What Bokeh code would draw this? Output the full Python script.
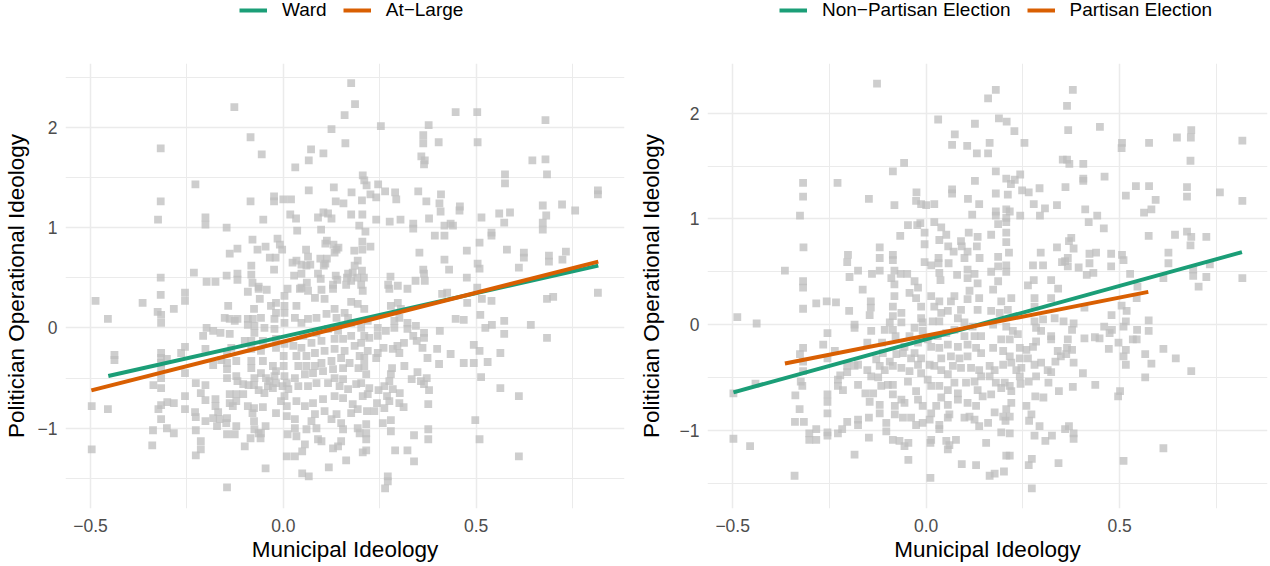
from bokeh.plotting import figure
from bokeh.layouts import row, column
from bokeh.models import Legend, LegendItem, FixedTicker, Range1d, CustomJSTickFormatter
from bokeh.embed import file_html
from bokeh.resources import INLINE

FONT = "Liberation Sans"

# ---------------- data ----------------
x_ticks = [-0.5, 0.0, 0.5]
x_minor = [-0.25, 0.25, 0.75]
y_ticks = [-1, 0, 1, 2]
left_y_minor = [-1.5, -0.5, 0.5, 1.5, 2.5]
right_y_minor = [-1.5, -0.5, 0.5, 1.5]

left_labels = ["Ward", "At\u2212Large"]
right_labels = ["Non\u2212Partisan Election", "Partisan Election"]
series_colors = ["#1B9E77", "#D95F02"]

# fitted lines: (x_min, x_max, intercept, slope)
left_fits = [(-0.454, 0.817, -0.087, 0.8655), (-0.498, 0.817, -0.137, 0.9757)]
right_fits = [(-0.498, 0.816, -0.1385, 1.009), (-0.365, 0.574, -0.105, 0.722)]

# (municipal ideology, politician operational ideology)
left_points = [
(-0.127,2.20),(-0.085,1.90),(-0.056,1.73),(-0.318,1.79),(-0.228,1.43),(-0.318,1.26),(-0.325,1.08),(-0.202,1.10),(-0.202,1.03),(-0.147,1.00),
(-0.085,1.26),(-0.052,1.08),(-0.024,1.31),(-0.024,1.26),(0.000,1.28),(-0.080,0.88),(-0.119,0.79),(-0.139,0.74),(-0.067,0.78),(-0.046,0.81),
(-0.015,0.89),(-0.009,0.83),(-0.003,0.78),(-0.035,0.70),(-0.020,0.70),(-0.024,0.58),(-0.083,0.62),(-0.083,0.53),(-0.119,0.54),(-0.119,0.48),
(-0.147,0.52),(-0.232,0.55),(-0.199,0.46),(-0.176,0.46),(-0.318,0.50),(-0.080,0.45),(-0.064,0.41),(-0.043,0.38),(0.011,0.39),
(0.176,2.44),(0.186,2.23),(0.159,2.12),(0.125,1.98),(0.161,1.84),(0.253,2.01),(0.072,1.78),(0.104,1.74),(0.066,1.67),(0.031,1.60),
(0.447,2.15),(0.503,2.15),(0.377,2.02),(0.363,1.92),(0.363,1.84),(0.403,1.85),(0.504,1.85),(0.358,1.71),(0.367,1.67),(0.365,1.63),
(0.575,1.53),(0.575,1.44),(0.206,1.52),(0.210,1.47),(0.216,1.42),(0.246,1.43),(0.131,1.40),(0.066,1.37),(0.177,1.35),(0.226,1.33),
(0.241,1.30),(0.264,1.36),(0.290,1.35),(0.293,1.28),(0.350,1.36),(0.371,1.26),(0.409,1.33),(0.405,1.24),(0.408,1.16),(0.458,1.21),
(0.457,1.17),(0.514,1.10),(0.560,1.14),(0.588,1.15),(0.573,1.05),(0.020,1.28),(0.136,1.26),(0.156,1.24),(0.204,1.27),(0.018,1.13),
(0.033,1.09),(0.090,1.10),(0.104,1.15),(0.116,1.14),(0.125,1.09),(0.176,1.13),(0.205,1.13),(0.241,1.08),(0.276,1.06),(0.304,1.08),
(0.337,1.04),(0.337,0.99),(0.378,1.09),(0.418,1.02),(0.434,1.04),(0.440,1.02),(0.393,0.92),(0.418,0.92),(0.197,1.02),(0.213,0.96),
(0.098,0.98),(0.036,0.97),(0.540,0.95),(0.540,0.92),(0.509,0.85),(0.580,0.78),(0.476,0.77),(0.353,0.75),(0.418,0.68),(0.430,0.58),
(0.504,0.64),(0.509,0.59),(0.476,0.50),(0.363,0.58),(0.365,0.54),(0.367,0.47),(0.343,0.47),(0.278,0.51),(0.272,0.43),(0.297,0.42),
(0.503,0.40),
(0.113,0.87),(0.109,0.84),(0.130,0.83),(0.143,0.80),(0.133,0.75),(0.138,0.78),(0.059,0.78),(0.064,0.71),(0.096,0.69),(0.113,0.69),
(0.109,0.64),(0.105,0.62),(0.034,0.67),(0.024,0.65),(0.047,0.63),(0.060,0.62),(0.070,0.63),(0.184,0.77),(0.205,0.86),(0.205,0.78),
(0.226,0.81),(0.193,0.67),(0.185,0.62),(0.204,0.57),(0.180,0.55),(0.168,0.54),(0.165,0.50),(0.176,0.47),(0.192,0.50),(0.209,0.50),
(0.136,0.52),(0.140,0.48),(0.090,0.54),(0.028,0.52),(0.047,0.54),(0.061,0.45),(0.097,0.49),(0.129,0.43),(0.163,0.43),(0.202,0.43),
(0.047,0.40),
(0.680,2.07),(0.646,1.67),(0.680,1.68),(0.684,1.53),(0.673,1.22),(0.723,1.23),(0.682,1.12),(0.757,1.17),(0.673,1.05),(0.673,0.98),
(0.816,1.37),(0.816,1.33),(0.624,0.75),(0.624,0.70),(0.611,0.60),(0.689,0.72),(0.689,0.66),(0.733,0.76),(0.724,0.68),
(0.684,0.29),(0.700,0.31),(0.816,0.35),(0.642,0.03),(0.684,-0.10),(0.611,-0.68),(0.611,-1.28),
(-0.487,0.27),(-0.455,0.09),(-0.365,0.25),(-0.318,0.33),(-0.255,0.35),(-0.255,0.27),(-0.284,0.19),(-0.326,0.16),(-0.317,0.13),(-0.317,0.05),
(-0.438,-0.27),(-0.438,-0.32),(-0.317,-0.25),(-0.317,-0.30),(-0.317,-0.35),(-0.302,-0.31),(-0.317,-0.41),(-0.317,-0.50),(-0.337,-0.57),(-0.317,-0.60),
(-0.497,-0.78),(-0.455,-0.81),(-0.497,-1.21),(-0.340,-1.17),(-0.338,-1.02),(-0.317,-0.91),(-0.302,-1.00),(-0.284,-1.05),(-0.324,-0.81),(-0.317,-0.77),
(-0.301,-0.74),(-0.284,-0.75),(-0.255,-0.68),(-0.255,-0.81),(-0.265,-0.25),(-0.255,-0.19),(-0.255,-0.45),(-0.227,-0.55),(-0.202,-0.57),(-0.214,-0.65),
(-0.229,-0.84),(-0.227,-0.89),(-0.227,-1.02),(-0.214,-1.13),(-0.214,-1.21),(-0.227,-1.27),(-0.202,-0.72),(-0.202,-0.93),(-0.176,-0.71),(-0.176,-0.78),
(-0.169,-0.84),(-0.182,-0.90),(-0.172,-0.98),(-0.146,-0.90),(-0.146,-1.06),(-0.122,-0.98),(-0.146,-1.59),(-0.046,-1.40),(-0.100,-1.18),(-0.085,-1.10),
(-0.064,-1.05),(-0.059,-1.10),(-0.046,-0.98),(-0.076,-0.93),(-0.080,-0.85),(-0.076,-0.80),(-0.092,-0.78),(-0.053,-0.79),(-0.019,-0.85),(0.009,-0.88),
(-0.122,-0.73),(-0.139,-0.75),(-0.139,-0.66),(-0.122,-0.66),(-0.104,-0.66),(-0.104,-0.56),(-0.090,-0.57),(-0.076,-0.57),(-0.064,-0.62),(-0.049,-0.65),
(-0.040,-0.58),(-0.027,-0.60),(-0.019,-0.55),(-0.002,-0.58),(0.003,-0.68),(-0.006,-0.73),(-0.119,-0.53),(-0.122,-0.48),(-0.146,-0.50),(-0.146,-0.41),
(-0.146,-0.35),(-0.161,-0.32),(-0.182,-0.37),(-0.122,-0.33),(-0.083,-0.33),(-0.083,-0.40),(-0.053,-0.33),(-0.027,-0.38),(-0.019,-0.43),(0.001,-0.38),
(0.001,-0.28),(-0.058,-0.23),(-0.083,-0.21),(-0.100,-0.13),(-0.083,-0.13),(-0.135,-0.20),(-0.146,-0.25),(-0.202,-0.21),(-0.208,-0.08),(-0.199,0.00),
(-0.182,-0.03),(-0.163,-0.05),(-0.139,-0.06),(-0.126,0.07),(-0.152,0.10),(-0.139,0.09),(-0.119,0.09),(-0.143,0.22),(-0.092,0.09),(-0.079,0.09),
(-0.058,0.10),(-0.075,0.02),(-0.092,0.03),(-0.049,0.00),(-0.023,0.09),(-0.023,-0.01),(-0.019,0.15),(-0.032,0.22),(-0.019,0.25),(0.003,0.22),
(0.003,0.15),(-0.076,0.19),(-0.092,0.36),(-0.064,0.39),(-0.061,0.29),(0.003,0.32),(0.003,0.05),(-0.075,-0.05),(-0.053,-0.13),(-0.019,-0.11),
(-0.019,-0.20),(0.003,-0.16),(-0.058,-0.45),(-0.075,-0.50),(-0.045,-0.50),(-0.036,-0.53),(-0.023,-0.48),(0.003,-0.48),(0.011,-1.06),(-0.131,-0.78),
(-0.165,-0.91),(-0.148,-0.95),(-0.126,-1.06),(-0.075,-1.01),(-0.058,-1.05),
(0.425,0.35),(0.412,0.34),(0.477,0.25),(0.515,0.29),(0.540,0.27),(0.511,0.13),(0.447,0.09),(0.468,0.08),(0.573,0.07),(0.541,0.03),
(0.524,0.00),(0.573,-0.06),(0.406,-0.03),(0.365,-0.05),(0.365,-0.10),(0.322,0.05),(0.322,-0.01),(0.344,0.02),(0.288,0.07),(0.288,0.00),
(0.301,0.10),(0.305,0.19),(0.279,0.22),(0.297,0.25),(0.275,0.39),(0.322,0.39),(0.245,0.00),(0.219,0.07),(0.210,0.19),(0.193,0.24),
(0.176,0.26),(0.206,0.37),(0.129,0.39),(0.099,0.38),(0.082,0.30),(0.107,0.29),(0.133,0.19),(0.159,0.15),(0.168,0.10),(0.138,0.10),
(0.112,0.14),(0.086,0.10),(0.064,0.09),(0.047,0.05),(0.030,0.10),(0.034,0.22),(0.043,0.39),(0.064,0.37),(0.176,0.05),(0.202,0.00),
(0.399,-0.21),(0.434,-0.26),(0.374,-0.30),(0.404,-0.36),(0.361,-0.20),(0.346,-0.13),(0.337,-0.08),(0.313,-0.15),(0.296,-0.18),(0.301,-0.25),
(0.284,-0.21),(0.260,-0.20),(0.245,-0.25),(0.241,-0.30),(0.219,-0.23),(0.210,-0.30),(0.198,-0.28),(0.210,-0.38),(0.195,-0.40),(0.215,-0.46),
(0.202,-0.55),(0.189,-0.56),(0.223,-0.60),(0.219,-0.66),(0.206,-0.68),(0.243,-0.75),(0.247,-0.62),(0.262,-0.58),(0.275,-0.53),(0.279,-0.46),
(0.282,-0.40),(0.284,-0.61),(0.269,-0.68),(0.275,-0.73),(0.302,-0.65),(0.301,-0.75),(0.312,-0.79),(0.314,-0.38),(0.333,-0.51),(0.348,-0.44),
(0.357,-0.53),(0.365,-0.56),(0.372,-0.50),(0.378,-0.62),(0.376,-0.76),(0.468,-0.35),(0.494,-0.35),(0.494,-0.17),(0.509,-0.23),(0.530,-0.34),
(0.563,-0.25),(0.513,-0.49),(0.563,-0.60),(0.498,-0.92),(0.509,-1.11),(0.376,-1.01),(0.376,-1.11),(0.339,-1.07),(0.322,-1.22),(0.339,-1.33),
(0.290,-1.22),(0.271,-1.48),(0.271,-1.53),(0.264,-1.60),(0.279,-0.92),(0.279,-1.03),(0.258,-0.95),(0.215,-0.96),(0.215,-1.05),(0.215,-1.11),
(0.193,-1.00),(0.198,-1.05),(0.215,-1.22),(0.206,-1.24),(0.163,-1.32),(0.150,-1.13),(0.142,-1.18),(0.129,-1.20),(0.118,-1.39),(0.049,-1.45),
(0.066,-1.48),(0.049,-1.23),(0.030,-1.28),(0.009,-1.28),(0.090,-1.11),(0.099,-1.13),(0.056,-1.16),(0.034,-1.08),(0.030,-1.00),(0.060,-1.01),
(0.086,-1.00),(0.073,-0.93),(0.125,-0.91),(0.150,-0.95),(0.155,-1.01),(0.138,-0.86),(0.107,-0.83),(0.082,-0.86),(0.030,-0.91),(0.009,-0.78),
(0.034,-0.73),(0.056,-0.78),(0.077,-0.75),(0.103,-0.71),(0.133,-0.68),(0.155,-0.70),(0.176,-0.85),(0.180,-0.76),(0.193,-0.81),(0.217,-0.83),
(0.236,-0.83),(0.262,-0.80),(0.168,-0.61),(0.146,-0.58),(0.155,-0.51),(0.133,-0.50),(0.116,-0.55),(0.086,-0.55),(0.064,-0.58),(0.039,-0.58),
(0.013,-0.61),(0.009,-0.55),(0.030,-0.50),(0.056,-0.46),(0.077,-0.45),(0.103,-0.43),(0.129,-0.41),(0.155,-0.40),(0.172,-0.35),(0.150,-0.30),
(0.125,-0.33),(0.099,-0.35),(0.082,-0.38),(0.060,-0.38),(0.039,-0.38),(0.034,-0.28),(0.060,-0.28),(0.082,-0.25),(0.107,-0.23),(0.133,-0.21),
(0.159,-0.23),(0.185,-0.18),(0.202,-0.15),(0.210,-0.08),(0.223,-0.10),(0.176,-0.08),(0.155,-0.11),(0.133,-0.11),(0.099,-0.13),(0.073,-0.15),
(0.047,-0.20),(0.026,-0.18),(0.052,-0.08),(0.086,-0.05),(0.116,-0.01),(0.142,-0.03),(0.266,-0.03),(0.245,-0.08),
]

right_points = [
(-0.127,2.28),(0.031,1.94),(0.126,1.90),(0.074,1.80),(0.067,1.70),(0.106,1.69),(0.131,1.62),(0.160,2.14),(-0.057,1.53),(-0.086,1.45),
(-0.318,1.34),(-0.229,1.34),(-0.318,1.21),(-0.326,1.03),(-0.148,1.19),(-0.082,1.13),(-0.025,1.25),(-0.026,1.17),(-0.013,1.14),(0.000,1.13),
(0.021,1.14),(0.067,1.28),(0.067,1.24),(0.126,1.36),(0.108,1.19),(0.137,1.14),(0.119,1.04),(-0.015,0.96),(-0.047,0.94),(-0.023,0.94),
(0.021,0.97),(0.039,0.92),(-0.004,0.87),(-0.067,0.84),(0.052,0.85),(0.034,0.80),(-0.004,0.76),(0.057,0.74),(0.090,0.79),(0.110,0.87),
(0.133,0.83),(0.131,0.74),(0.107,0.69),(0.071,0.69),(0.092,0.74),(-0.120,0.73),(-0.120,0.63),(-0.086,0.66),(-0.086,0.61),(-0.202,0.66),
(-0.204,0.59),(-0.317,0.73),(-0.365,0.51),(-0.176,0.51),(-0.198,0.45),(-0.140,0.48),(-0.120,0.51),(-0.082,0.51),(-0.066,0.48),(-0.049,0.48),
(-0.090,0.44),(-0.004,0.59),(0.013,0.56),(0.032,0.63),(0.032,0.58),(0.058,0.58),(0.034,0.49),(0.037,0.42),(0.080,0.47),(0.107,0.52),
(0.107,0.44),(0.125,0.48),(0.099,0.63),(0.138,0.63),(-0.030,0.41),(-0.318,0.41),(-0.318,0.35),(-0.164,0.33),(-0.082,0.38),(0.133,0.39),
(0.379,2.22),(0.180,2.22),(0.364,2.07),(0.188,1.95),(0.208,1.92),(0.228,1.83),(0.367,1.84),(0.449,1.87),(0.164,1.72),(0.160,1.62),
(0.254,1.72),(0.353,1.56),(0.364,1.56),(0.370,1.52),(0.406,1.52),(0.506,1.72),(0.505,1.67),(0.576,1.72),(0.648,1.77),(0.685,1.84),
(0.684,1.77),(0.683,1.55),(0.817,1.74),(0.180,1.45),(0.207,1.38),(0.229,1.37),(0.219,1.33),(0.243,1.42),(0.180,1.24),(0.211,1.23),
(0.248,1.27),(0.265,1.25),(0.293,1.29),(0.406,1.38),(0.406,1.36),(0.360,1.30),(0.461,1.40),(0.542,1.31),(0.576,1.31),(0.516,1.22),
(0.593,1.18),(0.674,1.30),(0.674,1.21),(0.759,1.25),(0.817,1.17),(0.278,1.14),(0.307,1.10),(0.338,1.13),(0.180,1.07),(0.207,1.09),
(0.216,1.07),(0.180,1.03),(0.207,1.01),(0.243,1.03),(0.294,1.03),(0.411,1.09),(0.442,1.03),(0.420,0.97),(0.459,0.91),(0.563,1.06),
(0.582,1.09),(0.186,0.95),(0.207,0.97),(0.168,0.85),(0.207,0.87),(0.207,0.78),(0.214,0.68),(0.186,0.64),(0.186,0.55),(0.207,0.56),
(0.207,0.50),(0.168,0.50),(0.186,0.41),(0.276,0.56),(0.302,0.56),(0.296,0.68),(0.338,0.73),(0.369,0.79),(0.375,0.82),(0.381,0.72),
(0.359,0.60),(0.366,0.63),(0.366,0.55),(0.351,0.59),(0.394,0.54),(0.422,0.67),(0.422,0.58),(0.439,0.68),(0.415,0.47),(0.432,0.49),
(0.478,0.67),(0.478,0.55),(0.506,0.66),(0.510,0.61),(0.527,0.48),(0.575,0.84),(0.643,0.85),(0.674,0.88),(0.685,0.83),(0.683,0.75),
(0.724,0.83),(0.626,0.68),(0.626,0.58),(0.733,0.57),(0.690,0.52),(0.690,0.46),(0.724,0.45),(0.817,0.44),(0.613,0.44),(0.704,0.36),
(0.278,0.42),(0.323,0.42),(0.263,0.37),(0.341,0.34),(0.546,0.36),
(-0.488,0.07),(-0.438,0.01),(-0.498,-0.65),(-0.498,-1.08),(-0.455,-1.15),(-0.441,-0.56),(-0.340,-1.43),(-0.318,0.15),(-0.284,0.20),(-0.257,0.22),
(-0.233,0.21),(-0.318,-0.22),(-0.326,-0.28),(-0.318,-0.35),(-0.318,-0.44),(-0.324,-0.54),(-0.320,-0.58),(-0.338,-0.67),(-0.327,-0.80),(-0.339,-0.92),
(-0.316,-0.92),(-0.255,-0.08),(-0.266,-0.19),(-0.236,-0.25),(-0.255,-0.32),(-0.255,-0.66),(-0.255,-0.73),(-0.255,-0.84),(-0.302,-1.03),(-0.302,-1.09),
(-0.284,-0.99),(-0.284,-1.09),(-0.255,-1.02),(-0.255,-1.05),(-0.228,-1.03),(-0.217,-0.99),(-0.204,-0.92),(-0.228,-0.52),(-0.228,-0.58),(-0.215,-0.62),
(-0.222,-0.48),(-0.204,-0.45),(-0.204,-0.39),(-0.185,-0.39),(-0.176,-0.57),(-0.176,-0.90),(-0.176,-0.95),(-0.148,-0.88),(-0.148,-1.07),(-0.185,-1.23),
(-0.199,0.13),(-0.185,0.00),(-0.185,-0.03),(-0.143,0.22),(-0.143,0.16),(-0.146,0.09),(-0.142,-0.06),(-0.152,-0.17),(-0.114,-0.17),(-0.176,-0.38),
(-0.152,-0.43),(-0.142,-0.49),(-0.157,-0.65),(-0.137,-0.65),(-0.146,-0.73),(-0.120,-0.76),(-0.120,-0.84),(-0.116,-0.58),(-0.124,-0.50),(-0.099,-0.57),
(-0.086,-0.57),(-0.086,-0.66),(-0.064,-0.71),(-0.081,-0.77),(-0.081,-0.85),(-0.056,-0.74),(-0.060,-0.88),(-0.103,-0.93),(-0.103,-1.01),(-0.086,-1.09),
(-0.069,-1.10),(-0.056,-1.15),(-0.046,-1.12),(-0.046,-1.28),(0.011,-1.45),(0.011,-1.12),(0.013,-1.09),(-0.026,-0.95),(-0.039,-0.88),(-0.009,-0.93),
(0.009,-0.90),(0.013,-0.84),(-0.009,-0.77),(-0.021,-0.71),(-0.026,-0.63),(-0.047,-0.54),(-0.043,-0.44),(-0.064,-0.41),(-0.086,-0.39),(-0.094,-0.35),
(-0.077,-0.28),(-0.060,-0.27),(-0.039,-0.32),(-0.021,-0.38),(-0.013,-0.46),(0.004,-0.52),(0.013,-0.58),(0.034,-0.58),(0.039,-0.69),(0.026,-0.77),
(0.056,-0.76),(0.060,-0.85),(0.034,-0.95),(0.034,-0.99),(0.056,-0.88),(0.052,-1.10),(0.056,-1.18),(0.077,-1.09),(0.060,-1.14),(0.092,-1.32),
(0.129,-1.33),(0.099,-0.88),(0.112,-0.87),(0.125,-0.90),(0.137,-0.96),(0.129,-0.77),(0.107,-0.74),(0.082,-0.71),(0.082,-0.65),(0.056,-0.62),
(0.073,-0.55),(0.103,-0.55),(0.125,-0.54),(0.133,-0.62),(0.146,-0.68),(0.056,-0.47),(0.039,-0.43),(0.021,-0.39),(0.009,-0.38),(-0.013,-0.32),
(-0.030,-0.27),(-0.056,-0.21),(-0.079,-0.11),(-0.086,-0.05),(-0.094,0.02),(-0.086,0.08),(-0.086,0.17),(-0.082,0.27),(-0.064,0.11),(-0.043,0.30),
(-0.026,0.25),(-0.021,0.35),(-0.013,0.17),(-0.013,0.06),(-0.009,0.02),(0.013,0.27),(0.021,0.17),(0.034,0.22),(0.039,0.11),(0.017,0.03),
(0.034,0.03),(0.056,0.13),(0.064,0.22),(0.073,0.27),(0.090,0.14),(0.107,0.24),(0.112,0.32),(0.133,0.14),(0.137,0.25),(0.082,0.06),
(0.099,0.02),(0.120,-0.02),(0.142,-0.11),(0.125,-0.11),(0.099,-0.11),(0.073,-0.05),(0.052,-0.08),(0.030,-0.11),(0.004,-0.14),(0.013,-0.21),
(0.034,-0.22),(0.056,-0.19),(0.082,-0.21),(0.107,-0.19),(0.129,-0.22),(0.142,-0.27),(0.107,-0.30),(0.086,-0.32),(0.064,-0.30),(0.039,-0.32),
(0.069,-0.39),(0.090,-0.41),(0.116,-0.41),(0.137,-0.43),(0.142,-0.49),(-0.009,-0.06),(-0.030,-0.03),(-0.043,-0.11),(-0.021,-0.17),(-0.107,-0.05),
(-0.064,0.02),(-0.112,-0.27),(-0.129,-0.33),(-0.107,-0.43),(-0.120,-0.39),
(0.544,0.25),(0.575,0.04),(0.575,-0.06),(0.545,-0.05),(0.534,-0.14),(0.544,-0.14),(0.518,0.13),(0.505,0.18),(0.516,0.03),(0.510,-0.02),
(0.479,0.09),(0.460,-0.02),(0.480,-0.05),(0.474,-0.08),(0.448,-0.13),(0.436,-0.12),(0.409,-0.13),(0.409,0.16),(0.381,0.01),(0.377,-0.05),
(0.355,0.03),(0.323,-0.11),(0.366,-0.14),(0.364,-0.22),(0.377,-0.24),(0.362,-0.28),(0.340,-0.25),(0.348,-0.30),(0.381,-0.36),(0.334,-0.35),
(0.472,-0.23),(0.497,-0.17),(0.516,-0.24),(0.510,-0.30),(0.516,-0.38),(0.566,-0.28),(0.582,-0.37),(0.613,-0.23),(0.645,-0.32),(0.685,-0.44),
(0.566,-0.50),(0.405,-0.46),(0.437,-0.57),(0.379,-0.59),(0.343,-0.63),(0.501,-0.63),(0.496,-0.68),(0.316,-0.55),(0.323,-0.45),(0.314,-0.43),
(0.297,-0.36),(0.280,-0.38),(0.284,-0.49),(0.265,-0.54),(0.244,-0.56),(0.220,-0.63),(0.216,-0.58),(0.194,-0.60),(0.168,-0.66),(0.164,-0.49),
(0.180,-0.55),(0.203,-0.55),(0.303,-0.69),(0.282,-0.68),(0.220,-0.74),(0.207,-0.80),(0.177,-0.83),(0.199,-0.87),(0.216,-0.87),(0.205,-0.91),
(0.259,-0.77),(0.272,-0.85),(0.266,-0.91),(0.293,-0.96),(0.280,-1.05),(0.308,-1.10),(0.325,-1.05),(0.359,-0.99),(0.369,-0.96),(0.381,-1.03),
(0.381,-1.08),(0.194,-1.02),(0.216,-1.03),(0.160,-0.93),(0.155,-1.12),(0.207,-1.24),(0.216,-1.24),(0.201,-1.39),(0.177,-1.41),(0.164,-1.43),
(0.265,-1.33),(0.273,-1.27),(0.342,-1.31),(0.273,-1.55),(0.510,-1.29),(0.613,-1.17),
(0.173,0.33),(0.194,0.22),(0.220,0.25),(0.168,0.13),(0.190,0.11),(0.211,0.14),(0.280,0.25),(0.323,0.25),(0.280,0.17),
(0.302,0.05),(0.332,0.06),(0.280,0.03),(0.284,-0.03),(0.297,-0.06),(0.173,0.00),(0.207,-0.02),(0.224,-0.06),(0.194,-0.14),(0.216,-0.14),
(0.237,-0.09),(0.173,-0.22),(0.199,-0.25),(0.216,-0.30),(0.242,-0.22),(0.259,-0.24),(0.276,-0.21),(0.284,-0.16),(0.323,-0.14),(0.263,-0.32),
(0.242,-0.32),(0.220,-0.36),(0.199,-0.38),(0.177,-0.43),(0.164,-0.39),(0.242,-0.49),(0.233,-0.43),(0.246,-0.41),
]

PANEL_W = 635
LEGEND_H = 26
MAIN_H = 540


def make_legend_fig(labels, legend_x):
    lf = figure(width=PANEL_W, height=LEGEND_H, x_range=Range1d(0, 1), y_range=Range1d(0, 1),
                output_backend="svg", toolbar_location=None,
                x_axis_type=None, y_axis_type=None,
                min_border_left=0, min_border_right=0, min_border_top=0, min_border_bottom=0)
    lf.outline_line_color = None
    lf.background_fill_color = "white"
    lf.border_fill_color = "white"
    items = []
    for color, label in zip(series_colors, labels):
        # key swatch only: its data lies outside this strip's visible range
        r = lf.line(x=[0, 1], y=[-5, -5], line_color=color, line_width=4)
        items.append(LegendItem(label=label, renderers=[r]))
    legend = Legend(items=items, location=(legend_x, 5), orientation="horizontal",
                    glyph_width=28, glyph_height=20, label_standoff=15, spacing=16,
                    padding=0, margin=0, border_line_color=None, background_fill_alpha=0,
                    label_text_font=FONT, label_text_font_size="19px",
                    label_text_color="black")
    lf.add_layout(legend, "center")
    return lf


def make_panel(points, fits, x_range, y_range, y_minor, border_left, border_right,
               ylabel_standoff):
    p = figure(width=PANEL_W, height=MAIN_H, x_range=Range1d(*x_range), y_range=Range1d(*y_range),
               output_backend="svg", toolbar_location=None,
               min_border_left=border_left, min_border_right=border_right,
               min_border_top=37, min_border_bottom=58)
    p.outline_line_color = None
    p.background_fill_color = "white"
    p.border_fill_color = "white"

    xt = FixedTicker(ticks=x_ticks, minor_ticks=x_minor)
    yt = FixedTicker(ticks=y_ticks, minor_ticks=y_minor)
    p.xaxis.ticker = xt
    p.xgrid.ticker = xt
    p.yaxis.ticker = yt
    p.ygrid.ticker = yt
    p.xaxis.formatter = CustomJSTickFormatter(code="return tick.toFixed(1).replace('-', '\\u2212');")
    p.yaxis.formatter = CustomJSTickFormatter(code="return tick.toFixed(0).replace('-', '\\u2212');")

    for g in (p.xgrid, p.ygrid):
        g.grid_line_color = "#EBEBEB"
        g.grid_line_width = 1.5
        g.minor_grid_line_color = "#EBEBEB"
        g.minor_grid_line_width = 1.0

    for ax in (p.xaxis, p.yaxis):
        ax.axis_line_color = None
        ax.major_tick_line_color = None
        ax.minor_tick_line_color = None
        ax.major_tick_out = 0
        ax.major_tick_in = 0
        ax.minor_tick_out = 0
        ax.minor_tick_in = 0
        ax.major_label_text_font = FONT
        ax.major_label_text_font_size = "17.5px"
        ax.major_label_text_color = "#4D4D4D"
        ax.axis_label_text_font = FONT
        ax.axis_label_text_font_size = "22.5px"
        ax.axis_label_text_font_style = "normal"
        ax.axis_label_text_color = "black"
    p.xaxis.axis_label = "Municipal Ideology"
    p.yaxis.axis_label = "Politician Operational Ideology"
    p.xaxis.major_label_standoff = 10
    p.xaxis.axis_label_standoff = 2
    p.yaxis.major_label_standoff = 8
    p.yaxis.axis_label_standoff = ylabel_standoff

    xs = [pt[0] for pt in points]
    ys = [pt[1] for pt in points]
    p.scatter(xs, ys, marker="square", size=7.8, fill_color="#BEBEBE", fill_alpha=0.75,
              line_color=None)

    for (x0, x1, b0, b1), color in zip(fits, series_colors):
        p.line([x0, x1], [b0 + b1 * x0, b0 + b1 * x1], line_color=color, line_width=4)
    return p


leg1 = make_legend_fig(left_labels, 239)
leg2 = make_legend_fig(right_labels, 144)
p1 = make_panel(left_points, left_fits, (-0.565, 0.885), (-1.80, 2.635),
                left_y_minor, 63, 11, 6)
p2 = make_panel(right_points, right_fits, (-0.565, 0.882), (-1.74, 2.47),
                right_y_minor, 71, 3, 13)

layout = column(row(leg1, leg2), row(p1, p2))
open("out.html", "w").write(file_html(layout, INLINE))
